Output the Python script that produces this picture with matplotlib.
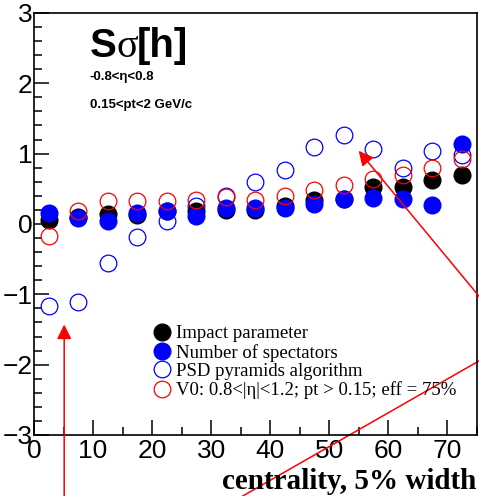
import matplotlib
matplotlib.use("Agg")
import matplotlib.pyplot as plt
from matplotlib.ticker import MultipleLocator

# centrality bins, 5% width
centrality = [2.5, 7.5, 12.5, 17.5, 22.5, 27.5, 32.5, 37.5, 42.5, 47.5, 52.5, 57.5, 62.5, 67.5, 72.5]

impact_param = [0.05, 0.10, 0.14, 0.13, 0.18, 0.19, 0.20, 0.20, 0.26, 0.34, 0.36, 0.52, 0.52, 0.62, 0.70]
spectators = [0.16, 0.08, 0.04, 0.16, 0.19, 0.12, 0.23, 0.23, 0.23, 0.29, 0.36, 0.37, 0.36, 0.27, 1.14]
psd_pyramids = [-1.17, -1.11, -0.55, -0.18, 0.04, 0.25, 0.40, 0.60, 0.77, 1.10, 1.27, 1.07, 0.79, 1.04, 0.98]
v0 = [-0.17, 0.19, 0.32, 0.32, 0.32, 0.34, 0.38, 0.34, 0.40, 0.48, 0.55, 0.64, 0.70, 0.80, 0.93]

labels = ["Impact parameter", "Number of spectators", "PSD pyramids algorithm",
          "V0: 0.8<|\u03b7|<1.2; pt > 0.15; eff = 75%"]

fig = plt.figure(figsize=(4.79, 4.96), dpi=100)
ax = fig.add_axes([0.0712, 0.123, 0.924, 0.851])

ms = 12
ax.plot(centrality, impact_param, 'o', color='black', ms=ms, mec='black', label=labels[0])
ax.plot(centrality, spectators, 'o', color='blue', ms=ms, mec='blue', label=labels[1])
ax.plot(centrality, psd_pyramids, 'o', mfc='none', mec='blue', mew=0.9, ms=ms, label=labels[2])
ax.plot(centrality, v0, 'o', mfc='none', mec='red', mew=0.9, ms=ms, label=labels[3])

ax.set_xlim(0, 75)
ax.set_ylim(-3, 3)

ax.xaxis.set_major_locator(MultipleLocator(10))
ax.xaxis.set_minor_locator(MultipleLocator(5))
ax.yaxis.set_major_locator(MultipleLocator(1))
ax.yaxis.set_minor_locator(MultipleLocator(0.2))
ax.tick_params(which='both', direction='in', top=False, right=False, width=1.1)
ax.tick_params(which='major', length=11, labelsize=19)
ax.tick_params(axis='x', which='major', pad=3)
ax.tick_params(axis='y', which='major', pad=1)
ax.tick_params(which='minor', length=5.5)
for lab in ax.get_xticklabels() + ax.get_yticklabels():
    lab.set_family('Liberation Sans')
for sp in ax.spines.values():
    sp.set_linewidth(1.2)

ax.text(1.0, -0.128, "centrality, 5% width", transform=ax.transAxes,
        ha='right', va='baseline', family='Liberation Serif', weight='bold', fontsize=21)

# title block
ax.text(0.126, 0.895, "S", transform=ax.transAxes, family='Liberation Sans',
        weight='bold', fontsize=29, va='baseline')
ax.text(0.186, 0.895, "\u03c3", transform=ax.transAxes, family='Liberation Serif',
        fontsize=29, va='baseline')
ax.text(0.232, 0.895, "[h]", transform=ax.transAxes, family='Liberation Sans',
        weight='bold', fontsize=29, va='baseline')
ax.text(0.126, 0.84, "-0.8<\u03b7<0.8", transform=ax.transAxes, family='Liberation Sans',
        weight='bold', fontsize=9.5, va='baseline')
ax.text(0.126, 0.775, "0.15<pt<2 GeV/c", transform=ax.transAxes, family='Liberation Sans',
        weight='bold', fontsize=9.5, va='baseline')

leg = ax.legend(loc='upper left', bbox_to_anchor=(0.27, 0.26), frameon=False,
                prop={'family': 'Liberation Serif', 'size': 13.5},
                handlelength=0.9, handletextpad=0.3, labelspacing=0.07,
                borderpad=0, borderaxespad=0, markerscale=1.0)

# red arrows
arrow = dict(arrowstyle='-|>', color='red', lw=1.1, mutation_scale=22)
ax.annotate("", xy=(5.1, -1.39), xytext=(5.1, -4.5), arrowprops=arrow, annotation_clip=False)
ax.annotate("", xy=(54.7, 1.07), xytext=(85.0, -2.0), arrowprops=arrow, annotation_clip=False)
ax.plot([35.3, 82.0], [-3.87, -1.63], color='red', lw=1.1, clip_on=False)

fig.savefig("out.png", dpi=100)
